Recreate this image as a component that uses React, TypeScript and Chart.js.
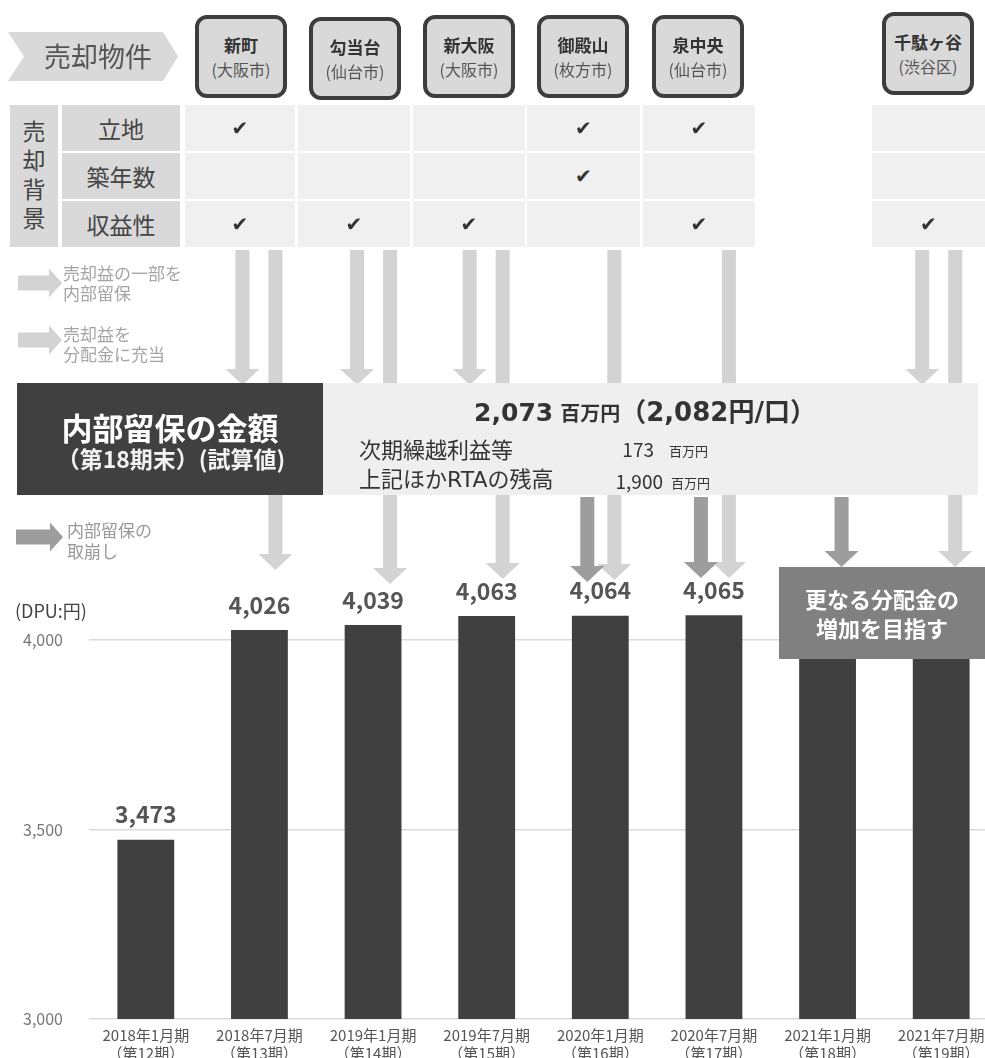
import React, { useEffect, useRef } from "react";
import { Chart, registerables } from "chart.js";

Chart.register(...registerables);

const FONT = "'Noto Sans CJK JP', 'Noto Sans', sans-serif";
const WIDE = "'DejaVu Sans', 'Noto Sans CJK JP', sans-serif";

// ---- data ----
const periodLabels = ["2018年1月期", "2018年7月期", "2019年1月期", "2019年7月期", "2020年1月期", "2020年7月期", "2021年1月期", "2021年7月期"];
const periodNumbers = ["（第12期）", "（第13期）", "（第14期）", "（第15期）", "（第16期）", "（第17期）", "（第18期）", "（第19期）"];
const dpuValues = [3473, 4026, 4039, 4063, 4064, 4065, 4070, 4070];
const dpuLabelShown = [true, true, true, true, true, true, false, false];
const yTicks = [3000, 3500, 4000];

const propertyNames = ["新町", "勾当台", "新大阪", "御殿山", "泉中央", "千駄ヶ谷"];
const propertyCities = ["(大阪市)", "(仙台市)", "(大阪市)", "(枚方市)", "(仙台市)", "(渋谷区)"];
const reasonRows = ["立地", "築年数", "収益性"];
const checkLocation = [1, 0, 0, 1, 1, 0];
const checkAge = [0, 0, 0, 1, 0, 0];
const checkYield = [1, 1, 1, 0, 1, 1];

// ---- layout ----
const boxLeft = [195, 309, 423, 537, 652, 882];
const boxTop = [15, 17, 15, 15, 15, 12];
const colLeft = [185, 298, 413, 527, 643, 872];
const colWidth = [110, 112, 112, 113, 112, 113];
const rowTop = [105, 153, 201];

const LIGHT = "#d3d3d3";
const DARK = "#9d9d9d";

// arrows: category index + pixel offset from category centre
const retainArrows = [
  { cat: 1, dx: -17 },
  { cat: 2, dx: -16 },
  { cat: 3, dx: -17 },
  { cat: 7, dx: -19 },
];
const passArrows = [
  { cat: 1, dx: 16, tip: 570 },
  { cat: 2, dx: 17, tip: 584 },
  { cat: 3, dx: 16, tip: 579 },
  { cat: 4, dx: 14, tip: 580 },
  { cat: 5, dx: 15, tip: 578 },
  { cat: 7, dx: 14, tip: 567 },
];
const drawdownArrows = [
  { cat: 4, dx: -13, tip: 582 },
  { cat: 5, dx: -13, tip: 578 },
  { cat: 6, dx: 14, tip: 567 },
];

const fmt = (v: number) => String(v).replace(/\B(?=(\d{3})+(?!\d))/g, ",");

function downArrow(ctx: CanvasRenderingContext2D, x: number, y0: number, tip: number, color: string) {
  const sw = 14, hw = 34, hh = 16;
  ctx.fillStyle = color;
  ctx.beginPath();
  ctx.moveTo(x - sw / 2, y0);
  ctx.lineTo(x + sw / 2, y0);
  ctx.lineTo(x + sw / 2, tip - hh);
  ctx.lineTo(x + hw / 2, tip - hh);
  ctx.lineTo(x, tip);
  ctx.lineTo(x - hw / 2, tip - hh);
  ctx.lineTo(x - sw / 2, tip - hh);
  ctx.closePath();
  ctx.fill();
}

function rightArrow(ctx: CanvasRenderingContext2D, x0: number, tip: number, cy: number, color: string) {
  const sh = 15, hh = 29, hl = 13;
  ctx.fillStyle = color;
  ctx.beginPath();
  ctx.moveTo(x0, cy - sh / 2);
  ctx.lineTo(tip - hl, cy - sh / 2);
  ctx.lineTo(tip - hl, cy - hh / 2);
  ctx.lineTo(tip, cy);
  ctx.lineTo(tip - hl, cy + hh / 2);
  ctx.lineTo(tip - hl, cy + sh / 2);
  ctx.lineTo(x0, cy + sh / 2);
  ctx.closePath();
  ctx.fill();
}

const overlayPlugin = {
  id: "overlay",
  afterDatasetsDraw(chart: any) {
    const { ctx } = chart;
    const xs = chart.scales.x;
    const meta = chart.getDatasetMeta(0);
    ctx.save();
    // value labels
    ctx.font = `bold 23px ${FONT}`;
    ctx.fillStyle = "#555555";
    ctx.textAlign = "center";
    ctx.textBaseline = "middle";
    meta.data.forEach((bar: any, i: number) => {
      if (!dpuLabelShown[i]) return;
      ctx.fillText(fmt(dpuValues[i]), bar.x, bar.y - 25);
    });
    // flow arrows
    retainArrows.forEach((a) => downArrow(ctx, xs.getPixelForValue(a.cat) + a.dx, 250, 385, LIGHT));
    passArrows.forEach((a) => downArrow(ctx, xs.getPixelForValue(a.cat) + a.dx, 250, a.tip, LIGHT));
    drawdownArrows.forEach((a) => downArrow(ctx, xs.getPixelForValue(a.cat) + a.dx, 497, a.tip, DARK));
    // legend arrows
    rightArrow(ctx, 18, 62, 283, LIGHT);
    rightArrow(ctx, 18, 62, 340, LIGHT);
    rightArrow(ctx, 16, 63, 537, DARK);
    ctx.restore();
  },
};

function Txt(props: { x: number; y: number; size: number; bold?: boolean; color?: string; align?: "left" | "center" | "right"; lh?: number; family?: string; children: any }) {
  const { x, y, size, bold, color = "#333", align = "left", lh, family, children } = props;
  const h = lh ?? Math.round(size * 1.4);
  const w = 600;
  const left = align === "left" ? x : align === "center" ? x - w / 2 : x - w;
  return (
    <div
      style={{
        position: "absolute",
        left,
        top: y - h / 2,
        width: w,
        height: h,
        lineHeight: h + "px",
        fontSize: size,
        fontWeight: bold ? 700 : 400,
        color,
        textAlign: align,
        whiteSpace: "nowrap",
        fontFamily: family ?? FONT,
      }}
    >
      {children}
    </div>
  );
}

export default function App() {
  const ref = useRef<HTMLCanvasElement>(null);

  useEffect(() => {
    const chart = new Chart(ref.current as HTMLCanvasElement, {
      type: "bar",
      data: {
        labels: periodLabels.map((p, i) => [p, periodNumbers[i]]),
        datasets: [
          {
            data: dpuValues,
            backgroundColor: "#404040",
            barPercentage: 0.5,
            categoryPercentage: 1,
          },
        ],
      },
      options: {
        animation: false,
        responsive: false,
        events: [],
        layout: { padding: { top: 602, right: 2, left: 0, bottom: 0 } },
        plugins: { legend: { display: false }, tooltip: { enabled: false } },
        scales: {
          x: {
            grid: { display: false },
            border: { display: false },
            ticks: {
              color: "#555555",
              font: { family: FONT, size: 15, lineHeight: 1.2 },
              padding: -1,
              maxRotation: 0,
              autoSkip: false,
            },
            afterFit: (s: any) => {
              s.height = 39;
            },
          },
          y: {
            min: 3000,
            max: 4100,
            grid: { color: "#dadada", lineWidth: 1.5, drawTicks: false },
            border: { display: false },
            ticks: {
              color: "#777777",
              font: { family: FONT, size: 16 },
              padding: 26,
              callback: (v: any) => fmt(Number(v)),
            },
            afterBuildTicks: (s: any) => {
              s.ticks = yTicks.map((v) => ({ value: v }));
            },
            afterFit: (s: any) => {
              s.width = 89;
            },
          },
        },
      },
      plugins: [overlayPlugin],
    } as any);
    return () => chart.destroy();
  }, []);

  const checkRows = [checkLocation, checkAge, checkYield];

  return (
    <div
      style={{
        position: "absolute",
        left: 0,
        top: 0,
        width: 985,
        height: 1058,
        overflow: "hidden",
        background: "#ffffff",
        fontFamily: FONT,
      }}
    >
      <canvas ref={ref} width={1000} height={1058} style={{ position: "absolute", left: 0, top: 0 }} />

      {/* 売却物件 chevron */}
      <div
        style={{
          position: "absolute",
          left: 8,
          top: 32,
          width: 170,
          height: 49,
          background: "#d9d9d9",
          clipPath: "polygon(0 0, 155px 0, 170px 50%, 155px 100%, 0 100%, 16px 50%)",
        }}
      />
      <Txt x={98} y={56} size={27} color="#555" align="center">売却物件</Txt>

      {/* property boxes */}
      {propertyNames.map((n, i) => (
        <div
          key={n}
          style={{
            position: "absolute",
            left: boxLeft[i],
            top: boxTop[i],
            width: 92,
            height: 83,
            boxSizing: "border-box",
            border: "4px solid #3d3d3d",
            borderRadius: 12,
            background: "#d9d9d9",
            textAlign: "center",
            paddingTop: 13,
          }}
        >
          <div style={{ fontSize: 17, fontWeight: 700, color: "#333", lineHeight: "25px" }}>{n}</div>
          <div style={{ fontSize: 16, color: "#555", lineHeight: "24px" }}>{propertyCities[i]}</div>
        </div>
      ))}

      {/* 売却背景 table */}
      <div
        style={{
          position: "absolute",
          left: 10,
          top: 105,
          width: 48,
          height: 142,
          background: "#d9d9d9",
          boxSizing: "border-box",
          paddingTop: 11,
          textAlign: "center",
          color: "#444",
          fontSize: 23,
          lineHeight: "29px",
        }}
      >
        {"売却背景".split("").map((c) => (
          <div key={c}>{c}</div>
        ))}
      </div>
      {reasonRows.map((r, ri) => (
        <React.Fragment key={r}>
          <div
            style={{
              position: "absolute",
              left: 62,
              top: rowTop[ri],
              width: 118,
              height: 46,
              background: "#d9d9d9",
              textAlign: "center",
              lineHeight: "46px",
              fontSize: 23,
              color: "#444",
            }}
          >
            {r}
          </div>
          {colLeft.map((cl, ci) => (
            <div
              key={ci}
              style={{
                position: "absolute",
                left: cl,
                top: rowTop[ri],
                width: colWidth[ci],
                height: 46,
                background: "#f0f0f0",
                textAlign: "center",
                lineHeight: "46px",
                fontSize: 20,
                color: "#333333",
                fontFamily: "'DejaVu Sans', sans-serif",
              }}
            >
              {checkRows[ri][ci] ? "✔" : ""}
            </div>
          ))}
        </React.Fragment>
      ))}

      {/* legend texts */}
      <Txt x={63} y={273} size={17} color="#a5a5a5" lh={20}>売却益の一部を</Txt>
      <Txt x={63} y={293} size={17} color="#a5a5a5" lh={20}>内部留保</Txt>
      <Txt x={63} y={334} size={17} color="#a5a5a5" lh={20}>売却益を</Txt>
      <Txt x={63} y={354} size={17} color="#a5a5a5" lh={20}>分配金に充当</Txt>
      <Txt x={67} y={530} size={17} color="#999" lh={20}>内部留保の</Txt>
      <Txt x={67} y={551} size={17} color="#999" lh={20}>取崩し</Txt>

      {/* 内部留保 box */}
      <div style={{ position: "absolute", left: 17, top: 383, width: 306, height: 112, background: "#404040" }} />
      <div style={{ position: "absolute", left: 323, top: 383, width: 655, height: 112, background: "#efefef" }} />
      <Txt x={170} y={427} size={31} bold color="#ffffff" align="center" lh={36}>内部留保の金額</Txt>
      <Txt x={171} y={458} size={23} bold color="#f2f2f2" align="center" lh={30}>（第18期末）(試算値)</Txt>

      <Txt x={645} y={412} size={25} bold color="#333" align="center" lh={32} family={WIDE}>
        <span>2,073</span>
        <span style={{ fontSize: 20 }}> 百万円</span>
        <span style={{ fontSize: 26 }}>（2,082円/口）</span>
      </Txt>
      <Txt x={359} y={448} size={22} color="#333" lh={28}>次期繰越利益等</Txt>
      <Txt x={654} y={449} size={19} color="#333" align="right" lh={26}>173</Txt>
      <Txt x={669} y={451} size={13} color="#333" lh={18}>百万円</Txt>
      <Txt x={359} y={480} size={22} color="#333" lh={28} family={WIDE}>上記ほかRTAの残高</Txt>
      <Txt x={663} y={481} size={19} color="#333" align="right" lh={26}>1,900</Txt>
      <Txt x={671} y={483} size={13} color="#333" lh={18}>百万円</Txt>

      {/* DPU unit */}
      <Txt x={15} y={610} size={18} color="#444" lh={24}>(DPU:円)</Txt>

      {/* target box */}
      <div style={{ position: "absolute", left: 779, top: 567, width: 206, height: 92, background: "#808080" }} />
      <Txt x={882} y={598} size={22} bold color="#ffffff" align="center" lh={29}>更なる分配金の</Txt>
      <Txt x={882} y={627} size={22} bold color="#ffffff" align="center" lh={29}>増加を目指す</Txt>
    </div>
  );
}
